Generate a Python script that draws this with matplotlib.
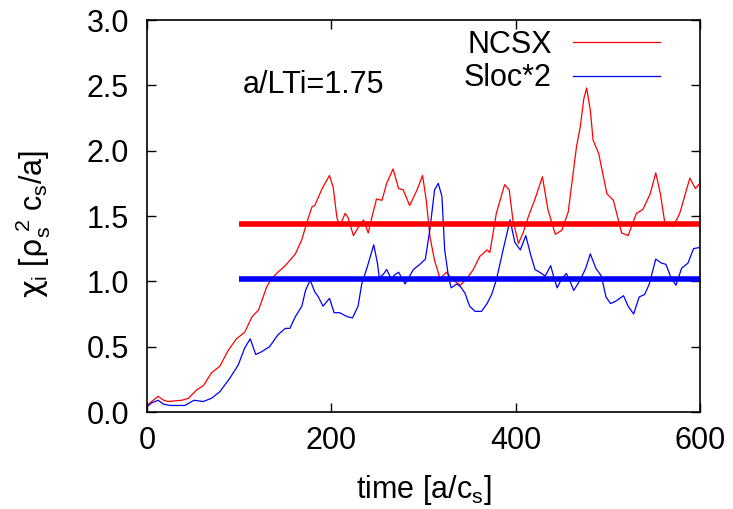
import matplotlib
matplotlib.use("Agg")
import matplotlib.pyplot as plt

plt.rcParams['font.family'] = ['Liberation Sans', 'DejaVu Sans']
plt.rcParams['mathtext.fontset'] = 'custom'
plt.rcParams['mathtext.rm'] = 'Liberation Sans'
plt.rcParams['mathtext.it'] = 'Liberation Sans'
plt.rcParams['mathtext.sf'] = 'DejaVu Sans'
plt.rcParams['mathtext.bf'] = 'Liberation Sans:bold'

# NCSX (red)
red_t = [0, 5, 12, 18, 23, 30, 38, 45, 54, 61, 70, 79, 88, 97, 106, 114, 121, 130, 135, 142,
         150, 161, 168, 173, 179, 182, 190, 198, 202, 206, 209, 215, 218, 224, 229, 235, 240,
         244, 249, 255, 260, 267, 273, 278, 285, 293, 299, 303, 307, 312, 318, 325, 332, 340,
         347, 354, 361, 369, 372, 379, 388, 393, 397, 403, 408, 414, 421, 429, 435, 443, 450,
         457, 466, 470, 474, 477, 481, 484, 490, 499, 506, 515, 522, 531, 538, 546, 552, 557,
         562, 571, 578, 589, 595, 600]
red_v = [0.05, 0.08, 0.12, 0.09, 0.08, 0.085, 0.09, 0.105, 0.17, 0.20, 0.30, 0.35, 0.47, 0.56,
         0.61, 0.73, 0.78, 0.96, 1.02, 1.07, 1.12, 1.21, 1.32, 1.44, 1.57, 1.58, 1.71, 1.81, 1.72,
         1.49, 1.42, 1.52, 1.49, 1.35, 1.41, 1.47, 1.37, 1.49, 1.63, 1.62, 1.75, 1.86, 1.71, 1.70,
         1.58, 1.70, 1.81, 1.62, 1.34, 1.16, 1.02, 1.07, 1.01, 0.97, 1.02, 1.09, 1.19, 1.24, 1.22,
         1.52, 1.74, 1.70, 1.47, 1.29, 1.37, 1.50, 1.63, 1.80, 1.55, 1.36, 1.39, 1.53, 2.03, 2.18,
         2.40, 2.48, 2.31, 2.08, 1.98, 1.67, 1.62, 1.37, 1.35, 1.52, 1.55, 1.67, 1.83, 1.67, 1.44,
         1.42, 1.52, 1.79, 1.71, 1.75]

# Sloc*2 (blue)
blue_t = [0, 5, 12, 18, 25, 33, 41, 51, 56, 61, 70, 79, 90, 99, 106, 112, 115, 118, 124, 133,
          142, 150, 155, 161, 168, 172, 177, 182, 186, 191, 198, 203, 209, 217, 223, 229, 233,
          239, 246, 250, 252, 256, 260, 265, 269, 273, 280, 289, 296, 302, 307, 312, 316, 320,
          323, 327, 330, 336, 340, 345, 350, 356, 363, 369, 374, 379, 387, 394, 399, 405, 411,
          416, 421, 426, 432, 438, 441, 445, 450, 455, 459, 463, 470, 476, 481, 487, 493, 498,
          503, 509, 517, 522, 528, 534, 540, 545, 552, 558, 563, 569, 574, 580, 587, 593, 600]
blue_v = [0.04, 0.07, 0.09, 0.06, 0.05, 0.05, 0.05, 0.09, 0.085, 0.08, 0.105, 0.155, 0.26, 0.36,
          0.49, 0.56, 0.50, 0.44, 0.46, 0.50, 0.59, 0.64, 0.64, 0.73, 0.81, 0.93, 1.01, 0.92, 0.88,
          0.81, 0.87, 0.76, 0.76, 0.73, 0.72, 0.81, 0.98, 1.11, 1.28, 1.14, 1.03, 1.05, 1.09, 1.02,
          1.05, 1.07, 0.98, 1.09, 1.13, 1.17, 1.40, 1.70, 1.75, 1.65, 1.24, 1.04, 0.95, 0.98, 0.96,
          0.91, 0.81, 0.77, 0.77, 0.83, 0.90, 1.01, 1.26, 1.47, 1.30, 1.24, 1.35, 1.21, 1.09, 1.07,
          1.04, 1.12, 1.04, 0.95, 1.02, 1.06, 1.00, 0.93, 1.01, 1.10, 1.21, 1.10, 1.04, 0.88, 0.83,
          0.85, 0.89, 0.81, 0.75, 0.88, 0.90, 0.98, 1.17, 1.14, 1.13, 1.02, 0.97, 1.10, 1.14, 1.25,
          1.26]

mean_t = [100, 600]
red_mean = 1.44
blue_mean = 1.02

x_ticks = [0, 200, 400, 600]
y_ticks = [0.0, 0.5, 1.0, 1.5, 2.0, 2.5, 3.0]

fs = 22

fig = plt.figure(figsize=(7.33, 5.09), dpi=100)
fig.patch.set_facecolor('white')
ax = fig.add_axes([147/733, 97/509, 553/733, 392/509])

ax.plot(red_t, red_v, color='#ff0000', lw=0.9, label='NCSX')
ax.plot(blue_t, blue_v, color='#0000ff', lw=0.9, label='Sloc*2')
ax.plot(mean_t, [red_mean, red_mean], color='#ff0000', lw=4.0, solid_capstyle='butt')
ax.plot(mean_t, [blue_mean, blue_mean], color='#0000ff', lw=4.0, solid_capstyle='butt')

ax.set_xlim(0, 600)
ax.set_ylim(0, 3.0)
ax.set_xticks(x_ticks)
ax.set_xticklabels([str(v) for v in x_ticks])
ax.set_yticks(y_ticks)
ax.set_yticklabels(['%.1f' % v for v in y_ticks])
ax.tick_params(direction='in', length=6.5, width=1.0, top=True, right=True,
               labelsize=fs, colors='black')
ax.tick_params(axis='y', pad=13)
ax.tick_params(axis='x', pad=10)
for s in ax.spines.values():
    s.set_linewidth(1.2)

ax.text(181, 2.50, 'a/LTi=1.75', fontsize=fs, ha='center', va='center')

ax.set_xlabel('time [a/c$_\\mathrm{s}$]', fontsize=fs, labelpad=12)
ax.set_ylabel('$\\mathsf{\\chi}_\\mathrm{i}$ [$\\mathsf{\\rho}_\\mathrm{s}^{\\ 2}$ c$_\\mathrm{s}$/a]',
              fontsize=fs)
ax.yaxis.set_label_coords(-0.17, 0.48)

leg = ax.legend(loc='upper right', bbox_to_anchor=(0.928, 0.975), frameon=False,
                markerfirst=False, fontsize=fs, handlelength=2.85, handletextpad=0.7,
                borderpad=0, borderaxespad=0, labelspacing=0.12)

fig.savefig('out.png', dpi=100, facecolor='white')
